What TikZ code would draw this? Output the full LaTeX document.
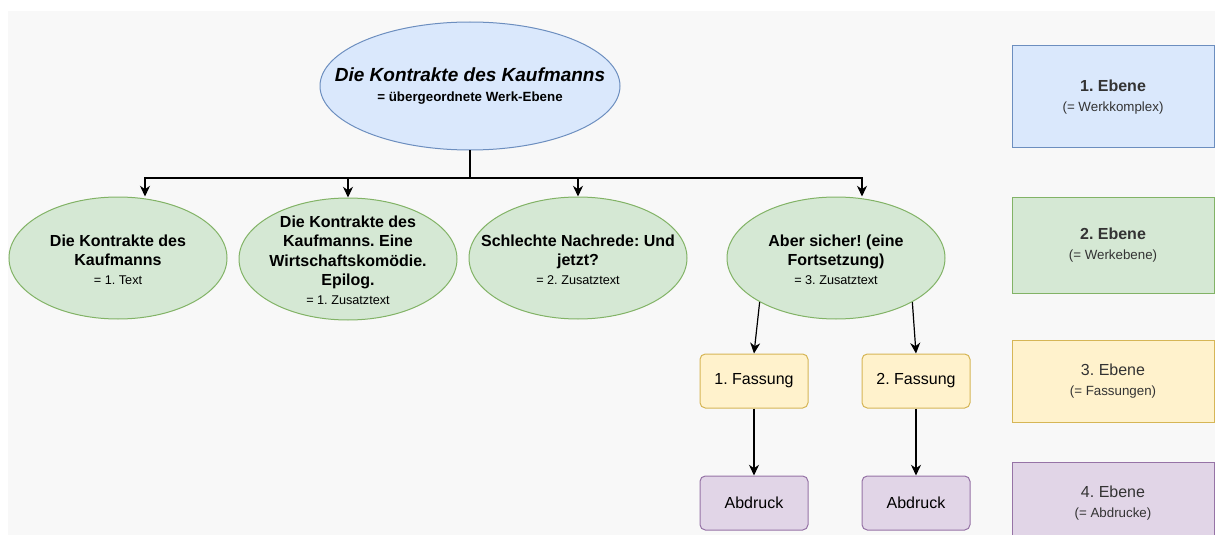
\documentclass[tikz,border=0pt]{standalone}
\usepackage{fontspec}
\setmainfont{Liberation Sans}
\usepackage{xcolor}
\usetikzlibrary{shapes.geometric,arrows.meta,calc}
\frenchspacing
\definecolor{bgrey}{HTML}{F8F8F8}
\definecolor{bluefill}{HTML}{DAE8FC}
\definecolor{bluedraw}{HTML}{6C8EBF}
\definecolor{greenfill}{HTML}{D5E8D4}
\definecolor{greendraw}{HTML}{82B366}
\definecolor{yellowfill}{HTML}{FFF2CC}
\definecolor{yellowdraw}{HTML}{D6B656}
\definecolor{purplefill}{HTML}{E1D5E7}
\definecolor{purpledraw}{HTML}{9673A6}
\tikzset{
  werk/.style={
      draw=bluedraw, fill=bluefill, ellipse, line width=0.75pt,
      minimum width=225pt, minimum height=96pt, inner sep=0pt
    },
  textell/.style={
      draw=greendraw, fill=greenfill, ellipse, line width=0.75pt,
      minimum width=163.5pt, minimum height=91.5pt, inner sep=0pt
    },
  lbl/.style={
      align=center, inner sep=0pt, font=\bfseries\fontsize{12}{14.4}\selectfont
    },
  fassung/.style={
      draw=yellowdraw, fill=yellowfill, rounded corners=4pt, line width=0.75pt,
      minimum width=81pt, minimum height=40.5pt, inner sep=0pt,
      font=\fontsize{12}{14.4}\selectfont
    },
  abdruck/.style={
      fassung, draw=purpledraw, fill=purplefill
    },
  ebene/.style={
      line width=0.75pt, minimum width=151.5pt, inner sep=0pt,
      align=center, text=black!80, font=\fontsize{12}{15}\selectfont
    },
  arr/.style={-{Stealth[length=8pt,width=7.5pt,inset=2.5pt]}, line width=0.9pt}
}
\newcommand{\subline}[1]{{\normalfont\fontsize{9.5}{14.4}\selectfont #1}}
\newcommand{\legsub}[1]{{\normalfont\fontsize{10}{15}\selectfont #1}}
\begin{document}
\begin{tikzpicture}[x=0.75pt,y=-0.75pt]
\useasboundingbox (0,0) rectangle (1215,535);
\clip (0,0) rectangle (1215,535);
\fill[white] (0,0) rectangle (1215,535);
\fill[bgrey] (8,11) rectangle (1215,535);

% the shapes
\node[werk, label={[lbl]center:{\fontsize{14.25}{15}\selectfont\bfseries\itshape Die Kontrakte des Kaufmanns\\
   \bfseries\fontsize{10}{15}\selectfont = übergeordnete Werk-Ebene}}] at (470,86) (top) {};
\node[textell, label={[lbl, yshift=-1.5pt]center:{Die Kontrakte des\\Kaufmanns\\\subline{= 1. Text}}}]
  at (118,258) (e1) {};
\node[textell, label={[lbl, yshift=-1pt]center:{Die Kontrakte des\\Kaufmanns. Eine\\Wirtschaftskomödie.\\Epilog.\\\subline{= 1. Zusatztext}}}]
  at (348,259) (e2) {};
\node[textell, label={[lbl, yshift=-1.5pt]center:{Schlechte Nachrede: Und\\jetzt?\\\subline{= 2. Zusatztext}}}]
  at (578,258) (e3) {};
\node[textell, label={[lbl, yshift=-1.5pt]center:{Aber sicher! (eine\\Fortsetzung)\\\subline{= 3. Zusatztext}}}]
  at (836,258) (e4) {};
\node[fassung] at (754,381) (f1) {1. Fassung};
\node[fassung] at (916,381) (f2) {2. Fassung};
\node[abdruck] at (754,503) (a1) {Abdruck};
\node[abdruck] at (916,503) (a2) {Abdruck};

% the levels
\node[ebene, draw=bluedraw, fill=bluefill, minimum height=76.5pt] at (1113,97) (l1)
  {\bfseries 1. Ebene\\\legsub{(= Werkkomplex)}};
\node[ebene, draw=greendraw, fill=greenfill, minimum height=72pt] at (1113,245) (l2)
  {\bfseries 2. Ebene\\\legsub{(= Werkebene)}};
\node[ebene, draw=yellowdraw, fill=yellowfill, minimum height=61.5pt] at (1113,381) (l3)
  {3. Ebene\\\legsub{(= Fassungen)}};
\node[ebene, draw=purpledraw, fill=purplefill, minimum height=61.5pt] at (1113,503) (l4)
  {4. Ebene\\\legsub{(= Abdrucke)}};

%the arrows
\coordinate (bus) at (470,178);
\draw[line width=0.9pt] (top.south) -- (bus);
\draw[arr] (bus) -| ([xshift=20.25pt]e1.north);
\draw[arr] (bus) -| (e2.north);
\draw[arr] (bus) -| (e3.north);
\draw[arr] (bus) -| ([xshift=19.5pt]e4.north);
\draw[arr] (e4.-150) -- (f1.north);
\draw[arr] (e4.-30) -- (f2.north);
\draw[arr] (f1) -- (a1);
\draw[arr] (f2) -- (a2);
\end{tikzpicture}
\end{document}
